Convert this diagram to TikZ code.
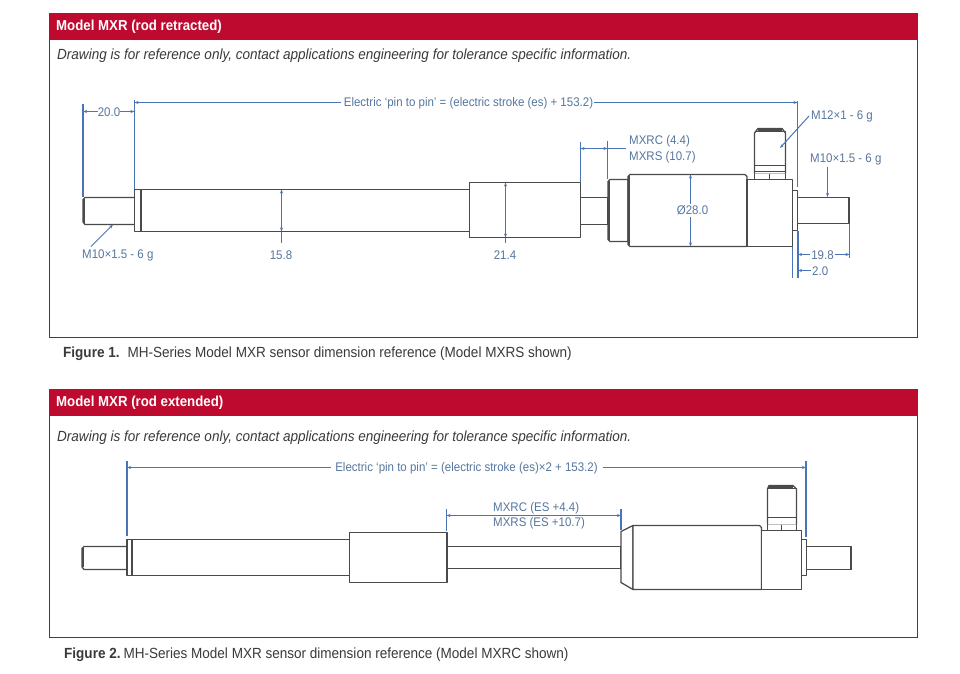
\documentclass[tikz,border=0pt]{standalone}
\usepackage{fontspec}
\setmainfont[FakeStretch=0.92]{Liberation Sans}
\usetikzlibrary{arrows.meta}
\definecolor{hdr}{HTML}{BF0A30}
\definecolor{dimblue}{HTML}{4A74B8}
\definecolor{dimtext}{HTML}{56779F}
\definecolor{steel}{HTML}{4A4A4A}
\definecolor{capt}{HTML}{3A3A3A}
\tikzset{
 panel/.style={draw=black!75,line width=1pt,fill=white},
 header/.style={fill=hdr,draw=none},
 hdrtext/.style={anchor=west,inner sep=0pt,yshift=-1pt,text=white,font=\fontsize{14.4}{16}\selectfont\bfseries},
 note/.style={anchor=west,inner sep=0pt,yshift=-1pt,text=capt,font=\fontsize{14.7}{16}\selectfont\itshape},
 caption/.style={anchor=west,inner sep=0pt,yshift=-1.3pt,text=capt,font=\fontsize{14.7}{16}\selectfont},
 part/.style={draw=steel,line width=1.3pt,fill=white,line join=round},
 edge/.style={draw=steel,line width=1.2pt},
 heavy/.style={draw=steel,line width=2pt},
 ext/.style={draw=dimblue,line width=1.3pt},
 dim/.style={draw=dimblue,line width=1pt},
 dimarrow/.style={dim,-{Stealth[length=4pt,width=3pt]}},
 dimboth/.style={dim,{Stealth[length=4pt,width=3pt]}-{Stealth[length=4pt,width=3pt]}},
 dimlabel/.style={inner sep=0pt,yshift=-1pt,text=dimtext,font=\fontsize{12.5}{14}\selectfont},
}
\begin{document}
\begin{tikzpicture}[x=1pt,y=-1pt]
\useasboundingbox (0,0) rectangle (960,673);
\fill[white] (0,0) rectangle (960,673);

% ---------- Panel 1 ----------
\draw[panel] (49.5,13.5) rectangle (917.5,337.5);
\fill[header] (49,13) rectangle (917.5,40);
\node[hdrtext] (h1) at (56,25.5) {Model MXR (rod retracted)};
\node[note] (n1) at (57,55) {Drawing is for reference only, contact applications engineering for tolerance specific information.};
\node[caption] (c1) at (63,352) {\textbf{Figure 1.}\hspace{8pt}MH-Series Model MXR sensor dimension reference (Model MXRS shown)};

% sensor, figure 1
\draw[part] (134.5,197.5) -- (85,197.5) -- (83,199.5) -- (83,222) -- (85,224.5) -- (134.5,224.5);
\draw[heavy] (83.5,199) -- (83.5,222.5);
\draw[part] (134.5,189.5) rectangle (140.5,231.5);
\draw[part] (140.5,189.5) rectangle (469.5,231.5);
\draw[heavy] (140.5,189.5) -- (140.5,231.5);
\draw[part] (469.5,182.5) rectangle (580.5,237.5);
\draw[part] (580.5,197.5) rectangle (608,224.5);
\draw[part] (610,179.5) -- (628,179.5) -- (628,241.5) -- (610,241.5) -- (608,239.5) -- (608,181.5) -- cycle;
\draw[heavy] (608.5,181) -- (608.5,240);
\draw[part] (630,174.5) -- (745,174.5) -- (747,176.5) -- (747,246.5) -- (630,246.5) -- (628,244.5) -- (628,176.5) -- cycle;
\draw[heavy] (629,176) -- (629,245);
\draw[part] (754.5,179.5) rectangle (785.5,173.5);
\draw[edge] (769.5,173.5) -- (769.5,179.5);
\draw[part] (754.5,173.5) -- (754.5,133) -- (758,128.5) -- (782,128.5) -- (785.5,133) -- (785.5,173.5);
\draw[heavy] (758,129.5) -- (782,129.5);
\draw[edge] (754.5,131.5) -- (785.5,131.5);
\draw[edge] (754.5,165.5) -- (785.5,165.5);
\draw[edge] (754.5,171.5) -- (785.5,171.5);
\draw[part] (747,179.5) rectangle (792.5,246.5);
\draw[part] (792.5,190.5) rectangle (797.5,230.5);
\draw[part] (797.5,197.5) -- (849.5,197.5) -- (849.5,223.5) -- (797.5,223.5);
\draw[heavy] (849,198) -- (849,223);

% dimensions, figure 1
\node[dimlabel] (d20) at (109,111) {20.0};
\draw[ext] (83,104) -- (83,197);
\draw[ext] (134.5,100) -- (134.5,189);
\coordinate (e1l) at (83,111.5); \coordinate (e1r) at (134.5,111.5);
\draw[dimarrow] (d20.west |- e1l) -- (e1l);
\draw[dimarrow] (d20.east |- e1r) -- (e1r);
\node[dimlabel] (elec1) at (468.5,102) {Electric ‘pin to pin’ = (electric stroke (es) + 153.2)};
\coordinate (e2l) at (134.5,102.5); \coordinate (e2r) at (797.5,102.5);
\coordinate (e2a) at ([xshift=-3pt]elec1.west |- e2l); \coordinate (e2b) at ([xshift=1pt]elec1.east |- e2r);
\draw[dimarrow] (e2a) -- (e2l);
\draw[dimarrow] (e2b) -- (e2r);
\draw[ext] (797.5,101) -- (797.5,187);
\node[dimlabel,anchor=west] (m12) at (811,115) {M12×1 - 6 g};
\coordinate (m12t) at (780,148);
\draw[dimarrow] (m12.west) ++(-2,0) -- (m12t);
\draw[ext] (580.5,142) -- (580.5,182);
\draw[ext] (607.5,141) -- (607.5,179);
\coordinate (s1) at (580.5,148.5); \coordinate (s2) at (607.5,148.5); \coordinate (s3) at (626,148.5);
\draw[dimboth] (s1) -- (s2);
\draw[dim] (s2) -- (s3);
\node[dimlabel,anchor=west] (mc1) at (629,140.5) {MXRC (4.4)};
\node[dimlabel,anchor=west] (ms1) at (629,156) {MXRS (10.7)};
\node[dimlabel,fill=white,inner ysep=2pt] (dia) at (692.5,209.5) {Ø28.0};
\coordinate (dt) at (690.5,174.5); \coordinate (db) at (690.5,246.5);
\draw[dimarrow] (dia.north -| dt) -- (dt);
\draw[dimarrow] (dia.south -| db) -- (db);
\node[dimlabel,anchor=west] (m10r) at (810,158) {M10×1.5 - 6 g};
\coordinate (m10a) at (827.5,197);
\draw[dimarrow] (m10a |- m10r.south) ++(0,2) -- (m10a);
\draw[ext] (849.5,224) -- (849.5,258);
\draw[ext] (792.5,247) -- (792.5,278);
\draw[ext] (798,231) -- (798,278);
\node[dimlabel] (d198) at (822.5,254.5) {19.8};
\coordinate (l1) at (798,254.5); \coordinate (l2) at (849.5,254.5);
\draw[dimarrow] (d198.west |- l1) ++(-1,0) -- (l1);
\draw[dimarrow] (d198.east |- l2) ++(1,0) -- (l2);
\node[dimlabel,anchor=west] (d2) at (812,270.5) {2.0};
\coordinate (l3) at (798,270.5);
\draw[dimarrow] (d2.west |- l3) ++(-1,0) -- (l3);
\node[dimlabel] (d158) at (281,254.5) {15.8};
\coordinate (r1) at (281.5,189.5); \coordinate (r2) at (281.5,231.5);
\coordinate (r3) at (281.5,243);
\draw[dimboth] (r1) -- (r2);
\draw[dim] (r2) -- (r3);
\node[dimlabel] (d214) at (505,254.5) {21.4};
\coordinate (b1) at (505.5,182.5); \coordinate (b2) at (505.5,237.5);
\coordinate (b3) at (505.5,243);
\draw[dimboth] (b1) -- (b2);
\draw[dim] (b2) -- (b3);
\node[dimlabel,anchor=west] (m10l) at (82,254.5) {M10×1.5 - 6 g};
\coordinate (m10b) at (113,224.5);
\coordinate (m10c) at (91,246.5);
\draw[dimarrow] (m10c) -- (m10b);

% ---------- Panel 2 ----------
\draw[panel] (49.5,389.5) rectangle (917.5,637.5);
\fill[header] (49,389) rectangle (917.5,416);
\node[hdrtext] (h2) at (56,402) {Model MXR (rod extended)};
\node[note] (n2) at (57,437) {Drawing is for reference only, contact applications engineering for tolerance specific information.};
\node[caption] (c2) at (64,653) {\textbf{Figure 2.}\hspace{3pt}MH-Series Model MXR sensor dimension reference (Model MXRC shown)};

% sensor, figure 2
\draw[part] (127,546.5) -- (84,546.5) -- (82,548.5) -- (82,567) -- (84,569.5) -- (127,569.5);
\draw[heavy] (82.5,548) -- (82.5,567);
\draw[part] (127,539.5) rectangle (132,575.5);
\draw[part] (132,539.5) rectangle (349.5,575.5);
\draw[heavy] (132,539.5) -- (132,575.5);
\draw[part] (349.5,532.5) rectangle (447,582.5);
\draw[part] (447,546.5) rectangle (621,568.5);
\draw[part] (621,531.5) -- (633,525.5) -- (633,589.5) -- (621,582.5) -- cycle;
\draw[part] (633,525.5) -- (759.5,525.5) -- (761.5,527.5) -- (761.5,589.5) -- (633,589.5) -- cycle;
\draw[part] (767.5,530.5) rectangle (796.5,524.5);
\draw[edge] (781.5,524.5) -- (781.5,530.5);
\draw[part] (767.5,524.5) -- (767.5,489) -- (769,485.5) -- (793,485.5) -- (796.5,489) -- (796.5,524.5);
\draw[heavy] (769,486.5) -- (793,486.5);
\draw[edge] (767.5,488.5) -- (796.5,488.5);
\draw[edge] (767.5,517.5) -- (796.5,517.5);
\draw[part] (761.5,530.5) rectangle (801.5,589.5);
\draw[part] (801.5,539.5) rectangle (806.5,575.5);
\draw[part] (806.5,546.5) -- (851.5,546.5) -- (851.5,569.5) -- (806.5,569.5);
\draw[heavy] (851,547) -- (851,569);

% dimensions, figure 2
\node[dimlabel] (elec2) at (466.5,467) {Electric ‘pin to pin’ = (electric stroke (es)×2 + 153.2)};
\coordinate (f1) at (127,467.5); \coordinate (f2) at (806,467.5);
\draw[ext] (127,461) -- (127,536);
\draw[ext] (806,461) -- (806,537);
\coordinate (f1a) at ([xshift=-4pt]elec2.west |- f1); \coordinate (f2a) at ([xshift=5pt]elec2.east |- f2);
\draw[dimarrow] (f1a) -- (f1);
\draw[dimarrow] (f2a) -- (f2);
\node[dimlabel,anchor=west] (mc2) at (493,507) {MXRC (ES +4.4)};
\node[dimlabel,anchor=west] (ms2) at (493,522.5) {MXRS (ES +10.7)};
\draw[ext] (446.5,509) -- (446.5,531);
\draw[ext] (621,509) -- (621,530);
\coordinate (g1) at (446.5,515.5); \coordinate (g2) at (621,515.5);
\draw[dimboth] (g1) -- (g2);
\end{tikzpicture}
\end{document}
